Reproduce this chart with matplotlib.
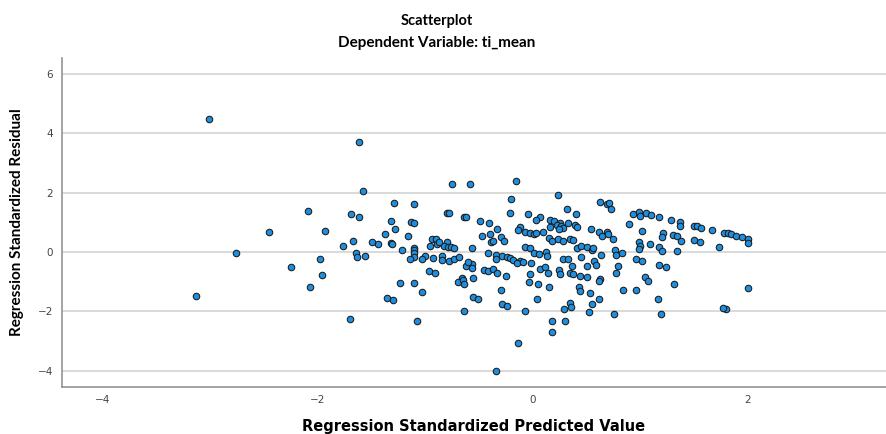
import matplotlib
matplotlib.use("Agg")
import matplotlib.pyplot as plt
from matplotlib import font_manager

# Regression standardized predicted values (x) and residuals (y)
pred = [
    -3.01, -3.13, -2.76, -2.46, -2.25, -2.09, -1.98, -1.96, -2.07, -1.93,
    -1.77, -1.70, -1.69, -1.62, -1.62, -1.58, -1.67, -1.65, -1.64, -1.56,
    -1.50, -1.44, -1.38, -1.32, -1.28, -1.29, -1.32, -1.31, -1.22, -1.16,
    -1.13, -1.11, -1.11, -1.11, -1.11, -1.11, -1.11, -1.14, -1.24, -1.11,
    -1.03, -1.36, -1.30, -1.08, -1.00, -1.03, -0.93, -0.85, -0.85, -0.78,
    -0.97, -0.91, -0.94, -0.90, -0.80, -0.96, -0.89, -0.83, -0.79, -0.87,
    -0.80, -0.78, -0.75, -0.59, -0.76, -0.73, -0.73, -0.69, -0.16, 0.23,
    -0.20, -0.21, -0.64, -0.62, -0.49, -0.41, -0.33, -0.47, -0.40, -0.30,
    -0.27, -0.39, -0.37, -0.05, 0.07, 0.03, -0.12, -0.14, -0.07, -0.03,
    0.01, 0.03, 0.09, 0.16, 0.20, 0.25, 0.22, 0.26, 0.28, 0.24,
    0.16, 0.33, 0.39, 0.41, 0.32, 0.40, 0.62, 0.69, 0.54, 0.61,
    0.64, 0.69, 0.15, 0.18, 0.23, 0.28, 0.34, 0.37, -0.57, -0.42,
    -0.34, -0.34, -0.29, -0.24, -0.21, -0.19, -0.12, -0.07, -0.03, 0.01,
    0.06, 0.12, 0.13, 0.41, 0.45, 0.50, 0.55, 0.56, 0.63, -0.62,
    -0.57, -0.57, -0.60, -0.46, -0.42, -0.37, -0.33, -0.25, -0.15, -0.09,
    -0.02, 0.07, 0.11, 0.14, -0.03, 0.28, 0.33, 0.45, 0.57, 0.50,
    0.36, 0.24, 0.25, 0.34, 0.37, 0.44, 0.50, 0.62, -0.66, -0.56,
    0.59, -0.70, -0.65, -0.64, -0.56, -0.51, -0.64, -0.30, -0.29, -0.24,
    -0.04, 0.05, 0.15, 0.04, -0.07, 0.18, 0.18, 0.30, -0.14, -0.34,
    0.29, 0.34, 0.35, 0.43, 0.44, 0.53, 0.61, 0.61, 0.55, 0.52,
    0.71, 0.73, 0.93, 0.99, 1.00, 1.05, 1.10, 1.17, 0.89, 1.01,
    1.28, 1.37, 1.37, 1.50, 1.53, 1.56, 1.67, 1.78, 1.81, 1.84,
    1.89, 1.94, 2.00, 2.00, 0.70, 0.74, 0.99, 1.00, 0.99, 1.09,
    1.17, 1.20, 1.21, 1.20, 1.30, 1.34, 1.38, 1.50, 1.55, 1.34,
    1.73, 0.76, 0.77, 0.83, 0.96, 1.01, 0.79, 0.77, 1.17, 1.24,
    1.04, 1.07, 1.31, 0.84, 0.96, 1.16, 0.75, 1.19, 1.80, 1.77,
    2.00,
]
resid = [
    4.49, -1.47, -0.04, 0.68, -0.51, 1.37, -0.24, -0.78, -1.18, 0.72,
    0.19, -2.27, 1.27, 1.19, 3.71, 2.05, 0.36, -0.03, -0.17, -0.12,
    0.34, 0.28, 0.61, 1.06, 0.77, 1.66, 0.30, 0.28, 0.08, 0.53,
    1.01, 0.99, 1.62, 0.12, 0.07, -0.04, -0.16, -0.25, -1.05, -1.04,
    -1.36, -1.56, -1.63, -2.33, -0.12, -0.23, -0.19, -0.13, -0.26, -0.30,
    -0.64, -0.71, 0.45, 0.43, 0.34, 0.21, 0.27, 0.21, 0.18, 0.35,
    1.33, 1.33, 2.30, 2.28, 0.16, 0.15, -0.25, -0.16, 2.40, 1.92,
    1.80, 1.32, 1.19, 1.17, 1.06, 0.99, 0.79, 0.54, 0.61, 0.51,
    0.36, 0.34, 0.36, 1.29, 1.19, 1.08, 0.85, 0.74, 0.68, 0.65,
    0.61, 0.65, 0.67, 1.08, 1.05, 0.99, 0.91, 0.88, 0.80, 0.77,
    0.83, 0.97, 0.90, 0.85, 1.45, 1.27, 1.70, 1.62, 0.77, 0.68,
    0.54, 0.67, 0.46, 0.38, 0.43, 0.37, 0.44, 0.40, 0.12, -0.02,
    -0.09, -0.23, -0.13, -0.18, -0.20, -0.27, -0.30, 0.16, 0.13, -0.04,
    -0.08, 0.01, -0.12, 0.12, 0.20, 0.16, 0.07, 0.13, -0.09, -0.47,
    -0.40, -0.53, -0.34, -0.61, -0.63, -0.58, -0.72, -0.80, -0.38, -0.33,
    -0.38, -0.58, -0.50, -0.72, -0.75, -0.25, -0.24, -0.17, -0.29, -0.47,
    -0.47, -0.61, -0.74, -0.70, -0.74, -0.81, -0.83, -0.92, -0.89, -0.89,
    -0.44, -1.02, -0.94, -1.08, -1.53, -1.59, -1.98, -1.27, -1.76, -1.81,
    -1.00, -1.08, -1.17, -1.58, -1.98, -2.33, -2.70, -2.32, -3.06, -4.01,
    -1.93, -1.71, -1.84, -1.17, -1.32, -1.38, -0.97, -1.59, -1.76, -2.01,
    1.64, 1.45, 1.28, 1.36, 1.21, 1.31, 1.25, 1.19, 0.95, 0.71,
    1.09, 1.00, 0.87, 0.89, 0.87, 0.82, 0.74, 0.65, 0.63, 0.60,
    0.54, 0.50, 0.45, 0.31, 0.62, 0.44, 0.35, 0.21, 0.09, 0.26,
    0.18, 0.03, 0.65, 0.52, 0.57, 0.54, 0.37, 0.39, 0.35, 0.03,
    0.18, 0.07, -0.10, -0.02, -0.25, -0.30, -0.47, -0.72, -0.45, -0.52,
    -0.83, -0.99, -1.08, -1.28, -1.27, -1.59, -2.08, -2.10, -1.91, -1.90,
    -1.20,
]

x_ticks = [-4, -2, 0, 2]
y_ticks = [-4, -2, 0, 2, 4, 6]

title_main = "Scatterplot"
title_sub = "Dependent Variable: ti_mean"
x_label = "Regression Standardized Predicted Value"
y_label = "Regression Standardized Residual"

avail = {f.name for f in font_manager.fontManager.ttflist}
narrow = "Liberation Sans Narrow" if "Liberation Sans Narrow" in avail else "Lato"

fig = plt.figure(figsize=(8.86, 4.34), dpi=100)
ax = fig.add_axes([0.0696, 0.1083, 0.9304, 0.7587])

ax.set_axisbelow(True)
ax.grid(axis="y", color="#d9d9d9", linewidth=1.4)
ax.grid(axis="x", visible=False)

ax.scatter(pred, resid, s=22, facecolor="#1e8fe0", edgecolor="#1a1a1a",
           linewidth=0.75, zorder=3)

ax.set_xlim(-4.384, 3.284)
ax.set_ylim(-4.553, 6.553)
ax.set_xticks(x_ticks)
ax.set_yticks(y_ticks)
ax.set_xticklabels([f"\u2212{abs(t)}" if t < 0 else str(t) for t in x_ticks])
ax.set_yticklabels([f"\u2212{abs(t)}" if t < 0 else str(t) for t in y_ticks])
ax.tick_params(axis="both", length=0, labelsize=7.5, labelcolor="#444444",
               pad=6)

for side in ("top", "right"):
    ax.spines[side].set_visible(False)
for side in ("left", "bottom"):
    ax.spines[side].set_color("#8c8c8c")
    ax.spines[side].set_linewidth(1.1)

ax.set_xlabel(x_label, fontsize=10.5, fontweight="bold", family="DejaVu Sans",
              labelpad=10)
ax.set_ylabel(y_label, fontsize=11, fontweight="bold", family=narrow,
              labelpad=10)

fig.text(0.493, 0.952, title_main, ha="center", va="center", fontsize=10.5,
         fontweight="bold", family="Lato")
fig.text(0.493, 0.902, title_sub, ha="center", va="center", fontsize=11,
         fontweight="bold", family="Lato")

fig.savefig("out.png", dpi=100)
